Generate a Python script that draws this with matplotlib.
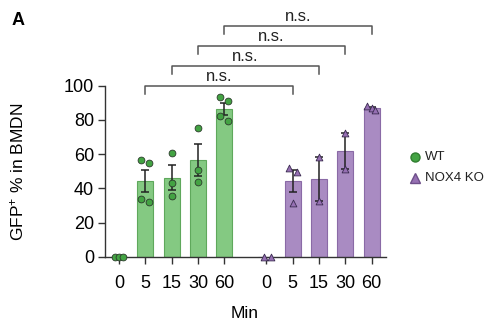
import numpy as np
import matplotlib
matplotlib.use("Agg")
import matplotlib.pyplot as plt

plt.rcParams["font.family"] = ["Liberation Sans", "DejaVu Sans"]
plt.rcParams["mathtext.default"] = "regular"

# Donnees
times = ["0", "5", "15", "30", "60"]
wt_points = [
    [0, 0, 0],
    [56.5, 55.0, 33.7, 32.0],
    [60.5, 42.9, 35.5],
    [75.4, 50.7, 43.9],
    [93.6, 91.2, 82.5, 79.2],
]
ko_points = [
    [0, 0],
    [51.7, 49.3, 31.6],
    [58.1, 32.8],
    [72.2, 51.1],
    [88.0, 87.0, 86.0],
]
# decalage horizontal des points (jitter)
wt_jitter = [[-0.16, 0, 0.16], [-0.18, 0.13, -0.18, 0.13], [0, 0, 0], [0, 0, 0],
             [-0.15, 0.16, -0.18, 0.13]]
ko_jitter = [[-0.1, 0.18], [-0.16, 0.15, 0], [0, 0], [0, 0], [-0.17, 0, 0.11]]
comparisons = ["5", "15", "30", "60"]
sig_labels = ["n.s.", "n.s.", "n.s.", "n.s."]
groups = ["WT", "NOX4 KO"]

GREEN_BAR = "#84c982"
GREEN_EDGE = "#5fa85c"
GREEN_PT = "#43a343"
PURPLE_BAR = "#a98bc2"
PURPLE_EDGE = "#8a6aa6"
PURPLE_PT = "#9670b3"
DARK = "#222222"


def sem(v):
    v = np.asarray(v, dtype=float)
    if len(v) < 2:
        return 0.0
    return v.std(ddof=1) / np.sqrt(len(v))


fig = plt.figure(figsize=(4.89, 3.30), dpi=100)
ax = fig.add_axes([0.2147, 0.222, 0.574, 0.518])

x_wt = np.arange(len(times), dtype=float)
x_ko = x_wt + len(times) + 0.6

for xs, pts, jit, bar_c, edge_c, pt_c, mk in [
    (x_wt, wt_points, wt_jitter, GREEN_BAR, GREEN_EDGE, GREEN_PT, "o"),
    (x_ko, ko_points, ko_jitter, PURPLE_BAR, PURPLE_EDGE, PURPLE_PT, "^"),
]:
    means = [np.mean(p) for p in pts]
    errs = [sem(p) for p in pts]
    ax.bar(xs, means, width=0.6, color=bar_c, edgecolor=edge_c, linewidth=0.8, zorder=1)
    for i in range(len(xs)):
        if means[i] > 0:
            ax.errorbar(xs[i], means[i], yerr=errs[i], color=DARK, capsize=3,
                        elinewidth=1.1, capthick=1.1, zorder=3)
        ax.scatter(xs[i] + np.array(jit[i]), pts[i], s=24, marker=mk, color=pt_c,
                   edgecolor="#2b3a2b" if mk == "o" else "#3a2a50", linewidth=0.6,
                   zorder=4, clip_on=False)

# brackets de comparaison
y0, dy = 100, 11.7
for k, t in enumerate(comparisons):
    i = times.index(t)
    xa, xb = x_wt[i], x_ko[i]
    yb = y0 + k * dy
    ax.plot([xa, xa, xb, xb], [yb - 5, yb, yb, yb - 5], color="#555555", lw=1.1,
            clip_on=False)
    ax.text((xa + xb) / 2, yb + 1.0, sig_labels[k], ha="center", va="bottom",
            fontsize=12, color="#222222")

ax.set_xlim(-0.53, x_ko[-1] + 0.53)
ax.set_ylim(0, 100)
ax.set_yticks([0, 20, 40, 60, 80, 100])
ax.set_xticks(np.concatenate([x_wt, x_ko]))
ax.set_xticklabels(times + times)
ax.tick_params(labelsize=13, length=5, width=1, color="#333333")
ax.tick_params(axis="x", pad=8)
ax.tick_params(axis="y", pad=3)
ax.spines["top"].set_visible(False)
ax.spines["right"].set_visible(False)
for s in ["left", "bottom"]:
    ax.spines[s].set_linewidth(1)
    ax.spines[s].set_color("#333333")

ax.set_ylabel("GFP$^{+}$ % in BMDN", fontsize=12.5)
ax.yaxis.set_label_coords(-0.28, 0.495)
ax.set_xlabel("Min", fontsize=12.5, va="top")
ax.xaxis.set_label_coords(0.498, -0.29)

# legende dessinee a la main (coordonnees figure)
leg_y = [1 - 157 / 330, 1 - 178 / 330]
for gy, name, c, ec, mk in [(leg_y[0], groups[0], GREEN_PT, "#2f7d2f", "o"),
                            (leg_y[1], groups[1], PURPLE_PT, "#6e4f8a", "^")]:
    fig.lines.append(plt.Line2D([415 / 489], [gy], marker=mk, ls="", color=c,
                                markeredgecolor=ec, markersize=6.5,
                                transform=fig.transFigure))
    fig.text(425 / 489, gy, name, fontsize=9.5, va="center", ha="left", color="#222222")

fig.text(0.024, 0.965, "A", fontsize=13, fontweight="bold", va="top")

plt.savefig("out.png", dpi=100)
plt.close()
